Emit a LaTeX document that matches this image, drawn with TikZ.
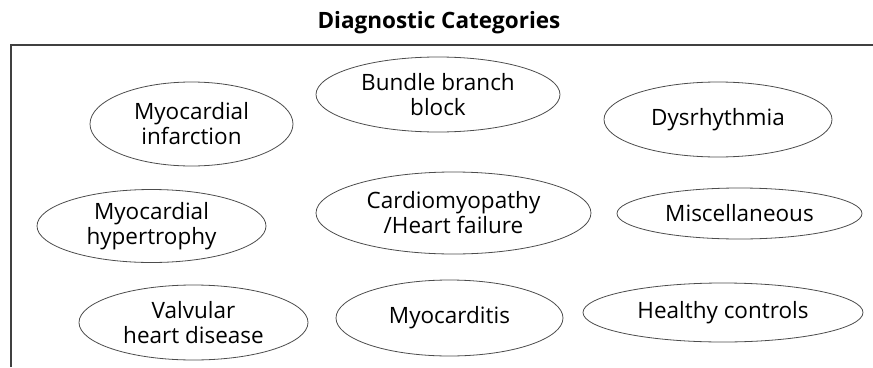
\documentclass[tikz,border=0pt]{standalone}
\usepackage{fontspec}
\setmainfont{Open Sans}
\usetikzlibrary{shapes.geometric}

\begin{document}
\begin{tikzpicture}[x=1pt,y=-1pt,
	cat/.style={shape=ellipse,draw=black!70,line width=0.8pt,inner sep=0pt,align=center,font=\fontsize{22.5}{25}\selectfont}]
	\useasboundingbox (0,0) rectangle (873,367);
	
	\node[font=\bfseries\fontsize{22.5}{26}\selectfont] (title) at (439,23) {Diagnostic Categories};
	\draw[black!75,line width=1.4pt] (11,367) -- (11,45) -- (873,45);
	
	\node[cat,minimum width=203,minimum height=84] (mi)   at (191.5,124) {Myocardial\\infarction};
	\node[cat,minimum width=244,minimum height=75] (bbb)  at (438,94.5)  {Bundle branch\\block};
	\node[cat,minimum width=228,minimum height=75] (dys)  at (718,119.5) {Dysrhythmia};
	\node[cat,minimum width=229,minimum height=73] (mh)   at (151.5,226) {Myocardial\\hypertrophy};
	\node[cat,minimum width=275,minimum height=82] (cm)   at (453.5,213) {Cardiomyopathy\\/Heart failure};
	\node[cat,minimum width=245,minimum height=51] (misc) at (739.5,213.5) {Miscellaneous};
	\node[cat,minimum width=229,minimum height=75] (vhd)  at (193.5,322.5) {Valvular\\heart disease};
	\node[cat,minimum width=227,minimum height=76] (myo)  at (449.5,318) {Myocarditis};
	\node[cat,minimum width=280,minimum height=59] (hc)   at (723,312.5) {Healthy controls};
	
\end{tikzpicture}
\end{document}
